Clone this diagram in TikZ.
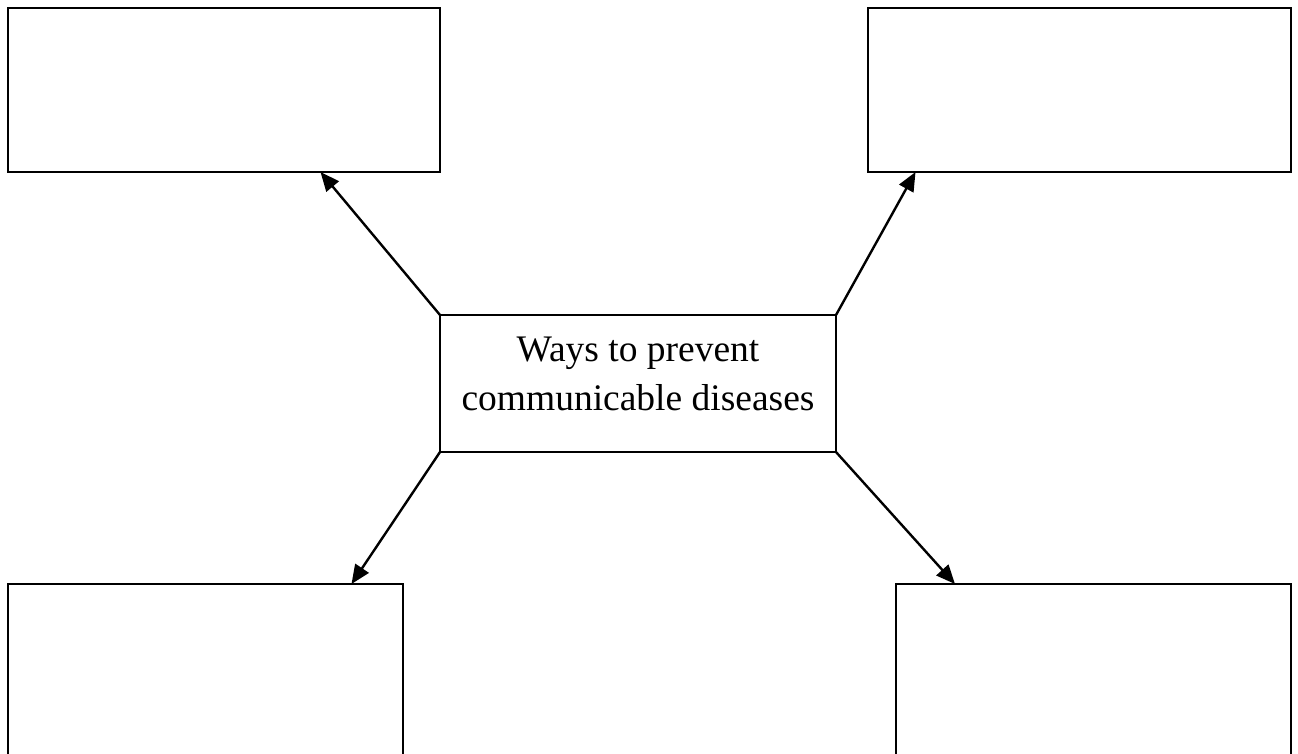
\documentclass[tikz,border=0pt]{standalone}
\usepackage{fontspec}
\setmainfont{Liberation Serif}
\usetikzlibrary{arrows.meta}

\begin{document}
\begin{tikzpicture}[x=1pt, y=-1pt,
        box/.style={draw, line width=2pt, inner sep=0pt, outer sep=0pt},
        arr/.style={line width=2.4pt, -{Triangle[length=19pt, width=16pt]}}]
        \useasboundingbox (0,0) rectangle (1298,753);

        % Center box
        \node[box, minimum width=396pt, minimum height=137pt, align=center,
              text depth=20pt, font=\fontsize{37.5}{49}\selectfont] (ways) at (638,383.5)
            {Ways to prevent\\communicable diseases};

        % Empty answer boxes
        \node[box, minimum width=432pt, minimum height=164pt] (tl) at (224,90) {};
        \node[box, minimum width=423pt, minimum height=164pt] (tr) at (1079.5,90) {};
        \node[box, minimum width=395pt, minimum height=216pt] (bl) at (205.5,692) {};
        \node[box, minimum width=395pt, minimum height=216pt] (br) at (1093.5,692) {};

        % Arrows
        \draw[arr] (ways.north west) -- ([xshift=96.5pt]tl.south);
        \draw[arr] (ways.north east) -- ([xshift=-164pt]tr.south);
        \draw[arr] (ways.south west) -- ([xshift=146pt]bl.north);
        \draw[arr] (ways.south east) -- ([xshift=-138.5pt]br.north);
    \end{tikzpicture}
\end{document}
